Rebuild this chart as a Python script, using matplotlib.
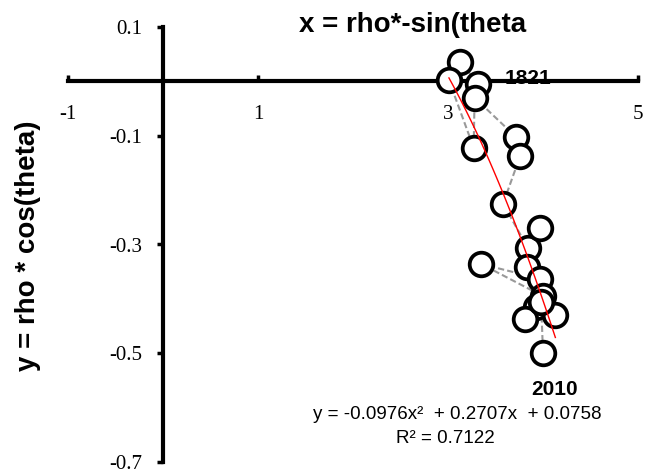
import numpy as np
import matplotlib
matplotlib.use('Agg')
import matplotlib.pyplot as plt

# points in chronological order (first = 1821, last = 2010)
xs = [3.32, 3.13, 3.01, 3.27, 3.28, 3.72, 3.76, 3.58, 3.84, 3.97,
      3.83, 3.97, 3.35, 4.00, 3.93, 3.81, 4.13, 3.98, 4.00]
ys = [-0.004, 0.035, 0.002, -0.122, -0.030, -0.103, -0.137, -0.225, -0.306, -0.269,
      -0.341, -0.363, -0.336, -0.395, -0.415, -0.437, -0.430, -0.405, -0.500]
first_label = '1821'
last_label = '2010'

# Excel trendline shown on the chart
coef = [-0.0976, 0.2707, 0.0758]
r2 = 0.7122

xticks = [-1, 1, 3, 5]
yticks = [0.1, -0.1, -0.3, -0.5, -0.7]

fig = plt.figure(figsize=(6.5, 4.73), dpi=100)
ax = fig.add_axes([68/650, 1-462/473, (638-68)/650, (462-27)/473])

ax.plot(xs, ys, color='#999999', ls=(0, (3, 1.5)), lw=1.5, zorder=2)
ax.plot(xs, ys, ls='none', marker='o', ms=17, mfc='white', mec='black', mew=2.7,
        zorder=3, clip_on=False)

tx = np.linspace(min(xs), max(xs), 50)
ax.plot(tx, np.polyval(coef, tx), color='red', lw=1.0, zorder=4)

ax.set_xlim(-1, 5)
ax.set_ylim(-0.7, 0.1)
ax.spines['left'].set_position(('data', 0))
ax.spines['bottom'].set_position(('data', 0))
ax.spines['top'].set_visible(False)
ax.spines['right'].set_visible(False)
for s in ['left', 'bottom']:
    ax.spines[s].set_linewidth(3)
ax.set_xticks(xticks)
ax.set_yticks(yticks)
ax.set_xticklabels([str(t) for t in xticks], family='Liberation Serif', fontsize=15)
ax.set_yticklabels(['%.1f' % t for t in yticks], family='Liberation Serif', fontsize=15)
ax.tick_params(axis='x', direction='in', length=4, width=2.5, pad=17)
ax.tick_params(axis='y', direction='out', length=4, width=2.5, pad=11)

fig.text(413/650, 1-25/473, 'x = rho*-sin(theta', ha='center', va='center',
         family='Liberation Sans', fontweight='bold', fontsize=20)
fig.text(28/650, 1-246/473, 'y = rho * cos(theta)', ha='center', va='center',
         rotation=90, family='Liberation Sans', fontweight='bold', fontsize=20)

# 1821 label sits partly behind the x axis line, as in the original
ax.text(3.6, 0.005, first_label, ha='left', va='center', family='Liberation Sans',
        fontweight='bold', fontsize=15, zorder=1)
ax.text(4.126, -0.566, last_label, ha='center', va='center', family='Liberation Sans',
        fontweight='bold', fontsize=15)

eq = 'y = %.4fx\u00b2  + %.4fx  + %.4f' % (coef[0], coef[1], coef[2])
ax.text(3.095, -0.613, eq, ha='center', va='center', family='Liberation Sans', fontsize=13.5)
ax.text(2.97, -0.657, 'R\u00b2 = %.4f' % r2, ha='center', va='center',
        family='Liberation Sans', fontsize=13.5)

plt.savefig('out.png', dpi=100)
